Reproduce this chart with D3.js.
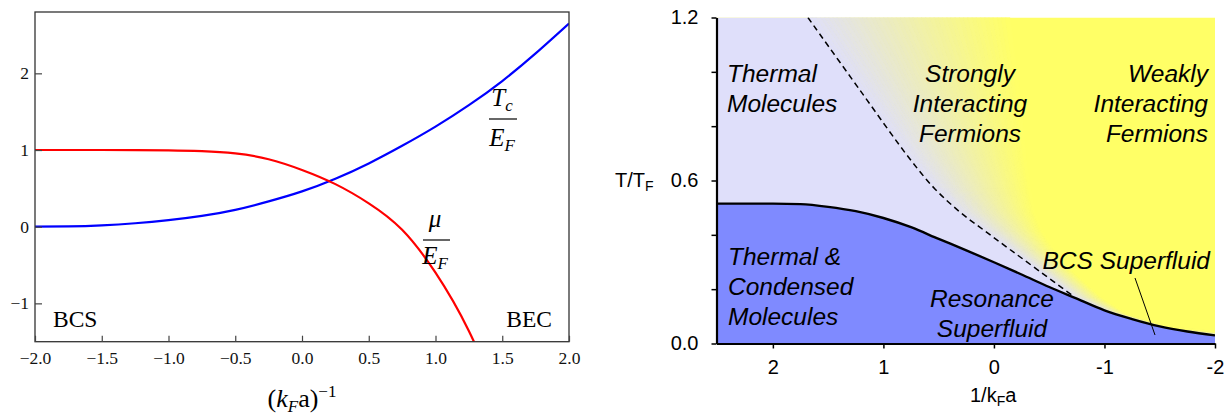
<!DOCTYPE html>
<html>
<head>
<meta charset="utf-8">
<script src="https://cdn.jsdelivr.net/npm/d3@7"></script>
<style>
body { margin: 0; background: #fff; }
svg { display: block; }
</style>
</head>
<body>
<div id="chart"></div>
<script>
// Left panel: mean-field crossover
var crossX = [-2.0, -1.75, -1.5, -1.25, -1.0, -0.75, -0.5, -0.25, 0, 0.25, 0.5, 0.75, 1.0, 1.25, 1.5, 1.75, 2.0];
var tcOverEf = [0.0, 0.004, 0.018, 0.045, 0.085, 0.14, 0.22, 0.33, 0.46, 0.625, 0.825, 1.055, 1.305, 1.585, 1.9, 2.26, 2.65];
var muX = [-2.0, -1.75, -1.5, -1.25, -1.0, -0.75, -0.5, -0.25, 0, 0.25, 0.5, 0.75, 1.0, 1.25, 1.5];
var muOverEf = [1.0, 1.0, 1.0, 0.999, 0.996, 0.985, 0.955, 0.88, 0.74, 0.555, 0.305, -0.04, -0.6, -1.36, -2.35];
var leftMajorX = [-2, -1.5, -1, -0.5, 0, 0.5, 1, 1.5, 2];
var leftMajorY = [-1, 0, 1, 2];

// Right panel: phase diagram T/T_F vs 1/k_F a
var tcX = [2.51, 2.0, 1.75, 1.5, 1.25, 1.0, 0.75, 0.5, 0.25, 0, -0.25, -0.5, -0.75, -1.0, -1.25, -1.5, -1.75, -2.0];
var tcOverTf = [0.515, 0.515, 0.513, 0.503, 0.487, 0.462, 0.428, 0.385, 0.343, 0.299, 0.254, 0.208, 0.165, 0.122, 0.09, 0.063, 0.044, 0.03];
var pairX = [1.683, 1.213, 0.76, 0.534, 0.308, 0.081, -0.145, -0.416, -0.715];
var pairT = [1.2, 0.933, 0.679, 0.569, 0.484, 0.414, 0.346, 0.265, 0.175];
// where the lavender -> yellow fade begins (pairing line, then Tc line) and where it ends
var fadeStartX = [1.683, 1.213, 0.76, 0.534, 0.308, 0.081, -0.145, -0.416, -0.715, -1.0, -1.5, -2.0];
var fadeStartT = [1.2, 0.933, 0.679, 0.569, 0.484, 0.414, 0.346, 0.265, 0.175, 0.122, 0.063, 0.03];
var fadeEndX = [-0.145, -0.23, -0.29, -0.33, -0.37, -0.44, -0.55, -0.72, -0.98, -1.2, -1.6, -2.0];
var fadeEndT = [1.2, 0.933, 0.679, 0.569, 0.484, 0.414, 0.346, 0.265, 0.17, 0.11, 0.06, 0.045];
var rightXTicks = [2, 1, 0, -1, -2];
var rightYTicks = [0, 0.2, 0.4, 0.6, 0.8, 1.0, 1.2];
var rightYLabels = [0, 0.6, 1.2];

var LAVENDER = "#dfdffa", YELLOW = "#ffff66", BLUE = "#7f8aff";
var SERIF = "'Liberation Serif', 'Times New Roman', serif";
var SANS = "'Liberation Sans', Arial, Helvetica, sans-serif";

var svg = d3.select("#chart").append("svg")
    .attr("width", 1224)
    .attr("height", 416);

/**
 * Left panel.
 */
function drawLeft() {
    var x = d3.scaleLinear().domain([-2, 2]).range([35, 569]);
    var y = d3.scaleLinear().domain([-1.5, 2.8]).range([341.7, 12]);
    var g = svg.append("g");

    g.append("clipPath").attr("id", "clipL")
        .append("rect")
        .attr("x", x(-2)).attr("y", y(2.8))
        .attr("width", x(2) - x(-2)).attr("height", y(-1.5) - y(2.8));

    var line = d3.line().curve(d3.curveNatural);

    g.append("path")
        .attr("clip-path", "url(#clipL)")
        .attr("d", line(crossX.map(function(d, i) { return [x(d), y(tcOverEf[i])]; })))
        .attr("fill", "none")
        .attr("stroke", "#0000ff")
        .attr("stroke-width", 2.2)

    g.append("path")
        .attr("clip-path", "url(#clipL)")
        .attr("d", line(muX.map(function(d, i) { return [x(d), y(muOverEf[i])]; })))
        .attr("fill", "none")
        .attr("stroke", "#ff0000")
        .attr("stroke-width", 2.2)

    // frame
    g.append("rect")
        .attr("x", x(-2)).attr("y", y(2.8))
        .attr("width", x(2) - x(-2)).attr("height", y(-1.5) - y(2.8))
        .attr("fill", "none")
        .attr("stroke", "#333")
        .attr("stroke-width", 1.3)

    var minorX = d3.range(-20, 21).map(function(d) { return d / 10; });
    var minorY = d3.range(-7, 14).map(function(d) { return d / 5; });

    var xAxis = g.append("g").attr("transform", "translate(0," + y(-1.5) + ")");
    xAxis.call(d3.axisBottom(x).tickValues(minorX).tickSize(-3).tickSizeOuter(0).tickFormat(""));
    xAxis.call(d3.axisBottom(x).tickValues(leftMajorX).tickSize(-6).tickSizeOuter(0).tickPadding(10).tickFormat(d3.format(".1f")));

    var yAxis = g.append("g").attr("transform", "translate(" + x(-2) + ",0)");
    yAxis.call(d3.axisLeft(y).tickValues(minorY).tickSize(-4).tickSizeOuter(0).tickFormat(""));
    yAxis.call(d3.axisLeft(y).tickValues(leftMajorY).tickSize(-7).tickSizeOuter(0).tickPadding(6).tickFormat(d3.format("d")));

    g.selectAll(".domain").remove();
    g.selectAll(".tick line").attr("stroke", "#444").attr("stroke-width", 1.2);
    g.selectAll(".tick text")
        .attr("font-family", SERIF)
        .attr("font-size", 17.5)
        .attr("fill", "#111");

    // labels
    g.append("text").attr("x", 53).attr("y", 327)
        .attr("font-family", SERIF).attr("font-size", 23.5).text("BCS");
    g.append("text").attr("x", 552).attr("y", 327).attr("text-anchor", "end")
        .attr("font-family", SERIF).attr("font-size", 23.5).text("BEC");

    drawFraction(g, 502, 106, 119, 146, "T", "c", 489, 517);
    drawFraction(g, 435, 227, 240, 264, "\u03bc", null, 423, 450);

    var title = g.append("text")
        .attr("x", (x(-2) + x(2)) / 2)
        .attr("y", 407)
        .attr("text-anchor", "middle")
        .attr("font-family", SERIF)
        .attr("font-size", 26)
    title.append("tspan").text("(");
    title.append("tspan").attr("font-style", "italic").text("k");
    title.append("tspan").attr("font-style", "italic").attr("font-size", 17).attr("dy", 5).text("F");
    title.append("tspan").attr("dy", -5).text("a)");
    title.append("tspan").attr("font-size", 17).attr("dy", -10).text("\u22121");
}

/**
 * Italic serif fraction label: top / bar / E_F.
 */
function drawFraction(g, cx, numY, barY, denY, top, topSub, barX1, barX2) {
    var num = g.append("text")
        .attr("x", cx).attr("y", numY)
        .attr("text-anchor", "middle")
        .attr("font-family", SERIF)
        .attr("font-style", "italic")
        .attr("font-size", 25)
    num.append("tspan").text(top);
    if (topSub) num.append("tspan").attr("font-size", 17).attr("dy", 5).text(topSub);

    g.append("line")
        .attr("x1", barX1).attr("x2", barX2)
        .attr("y1", barY).attr("y2", barY)
        .attr("stroke", "#000")
        .attr("stroke-width", 1.2)

    var den = g.append("text")
        .attr("x", cx).attr("y", denY)
        .attr("text-anchor", "middle")
        .attr("font-family", SERIF)
        .attr("font-style", "italic")
        .attr("font-size", 25)
    den.append("tspan").text("E");
    den.append("tspan").attr("font-size", 17).attr("dy", 5).text("F");
}

/**
 * Right panel.
 */
function drawRight() {
    var x = d3.scaleLinear().domain([2.51, -2]).range([716.5, 1215]);
    var y = d3.scaleLinear().domain([0, 1.2]).range([343.5, 17.5]);
    var g = svg.append("g");

    g.append("clipPath").attr("id", "clipR")
        .append("rect")
        .attr("x", x(2.51)).attr("y", y(1.2))
        .attr("width", x(-2) - x(2.51)).attr("height", y(0) - y(1.2));

    var fills = g.append("g").attr("clip-path", "url(#clipR)");

    fills.append("rect")
        .attr("x", x(2.51)).attr("y", y(1.2))
        .attr("width", x(-2) - x(2.51)).attr("height", y(0) - y(1.2))
        .attr("fill", YELLOW)

    var startPts = fadeStartX.map(function(d, i) { return [x(d), y(fadeStartT[i])]; });
    var endPts = fadeEndX.map(function(d, i) { return [x(d), y(fadeEndT[i])]; });

    // lavender region left of the fade
    var lav = [[x(2.51), y(1.2)]].concat(startPts, [[x(-2), y(0)], [x(2.51), y(0)]]);
    fills.append("path")
        .attr("d", "M" + lav.join("L") + "Z")
        .attr("fill", LAVENDER)

    // fade bands between start and end edges
    var N = 48;
    var color = d3.interpolateRgb(LAVENDER, YELLOW);
    function edge(t) {
        return startPts.map(function(p, i) {
            return [p[0] + (endPts[i][0] - p[0]) * t, p[1] + (endPts[i][1] - p[1]) * t];
        });
    }
    for (var i = 0; i < N; i++) {
        var a = edge(i / N), b = edge((i + 1) / N).reverse();
        var c = color((i + 0.5) / N);
        fills.append("path")
            .attr("d", "M" + a.concat(b).join("L") + "Z")
            .attr("fill", c)
            .attr("stroke", c)
            .attr("stroke-width", 0.8)
    }

    var tcPts = tcX.map(function(d, i) { return [d, tcOverTf[i]]; });

    fills.append("path")
        .datum(tcPts)
        .attr("d", d3.area().curve(d3.curveMonotoneX)
            .x(function(d) { return x(d[0]); })
            .y0(y(0))
            .y1(function(d) { return y(d[1]); }))
        .attr("fill", BLUE)

    fills.append("path")
        .datum(tcPts)
        .attr("d", d3.line().curve(d3.curveMonotoneX)
            .x(function(d) { return x(d[0]); })
            .y(function(d) { return y(d[1]); }))
        .attr("fill", "none")
        .attr("stroke", "#000")
        .attr("stroke-width", 2.4)

    fills.append("path")
        .datum(pairX.map(function(d, i) { return [d, pairT[i]]; }))
        .attr("d", d3.line().curve(d3.curveCatmullRom.alpha(0.5))
            .x(function(d) { return x(d[0]); })
            .y(function(d) { return y(d[1]); }))
        .attr("fill", "none")
        .attr("stroke", "#000")
        .attr("stroke-width", 1.5)
        .attr("stroke-dasharray", "6,4")

    // leader line for BCS Superfluid
    g.append("line")
        .attr("x1", 1135).attr("y1", 278)
        .attr("x2", 1155).attr("y2", 335)
        .attr("stroke", "#000")
        .attr("stroke-width", 1)

    // axes
    var xAxis = g.append("g").attr("transform", "translate(0," + y(0) + ")")
        .call(d3.axisBottom(x).tickValues(rightXTicks).tickSize(5).tickSizeOuter(0).tickPadding(11)
            .tickFormat(function(d) { return String(d); }));
    var yAxis = g.append("g").attr("transform", "translate(" + x(2.51) + ",0)")
        .call(d3.axisLeft(y).tickValues(rightYTicks).tickSize(5).tickSizeOuter(0).tickPadding(13)
            .tickFormat(function(d) { return rightYLabels.indexOf(d) >= 0 ? d.toFixed(1) : ""; }));

    g.selectAll(".domain").attr("stroke", "#000").attr("stroke-width", 2.2);
    g.selectAll(".tick line").attr("stroke", "#000").attr("stroke-width", 1.5);
    g.selectAll(".tick text")
        .attr("font-family", SANS)
        .attr("font-size", 20)
        .attr("fill", "#000");

    var yl = g.append("text").attr("x", 615).attr("y", 187)
        .attr("font-family", SANS).attr("font-size", 20);
    yl.append("tspan").text("T/T");
    yl.append("tspan").attr("font-size", 14).attr("dy", 4).text("F");

    var xl = g.append("text").attr("x", 970).attr("y", 402)
        .attr("font-family", SANS).attr("font-size", 20);
    xl.append("tspan").text("1/k");
    xl.append("tspan").attr("font-size", 14).attr("dy", 4).text("F");
    xl.append("tspan").attr("dy", -4).text("a");

    // region labels
    regionLabel(g, 727, 82, "start", ["Thermal", "Molecules"]);
    regionLabel(g, 970, 82, "middle", ["Strongly", "Interacting", "Fermions"]);
    regionLabel(g, 1208, 82, "end", ["Weakly", "Interacting", "Fermions"]);
    regionLabel(g, 728, 265, "start", ["Thermal &", "Condensed", "Molecules"]);
    regionLabel(g, 992, 307, "middle", ["Resonance", "Superfluid"]);
    regionLabel(g, 1210, 269, "end", ["BCS Superfluid"]);
}

function regionLabel(g, x, y, anchor, lines) {
    var t = g.append("text")
        .attr("x", x).attr("y", y)
        .attr("text-anchor", anchor)
        .attr("font-family", SANS)
        .attr("font-style", "italic")
        .attr("font-size", 24.5)
        .attr("fill", "#000")
    lines.forEach(function(s, i) {
        t.append("tspan").attr("x", x).attr("dy", i === 0 ? 0 : 30).text(s);
    });
}

drawLeft();
drawRight();
</script>
</body>
</html>
